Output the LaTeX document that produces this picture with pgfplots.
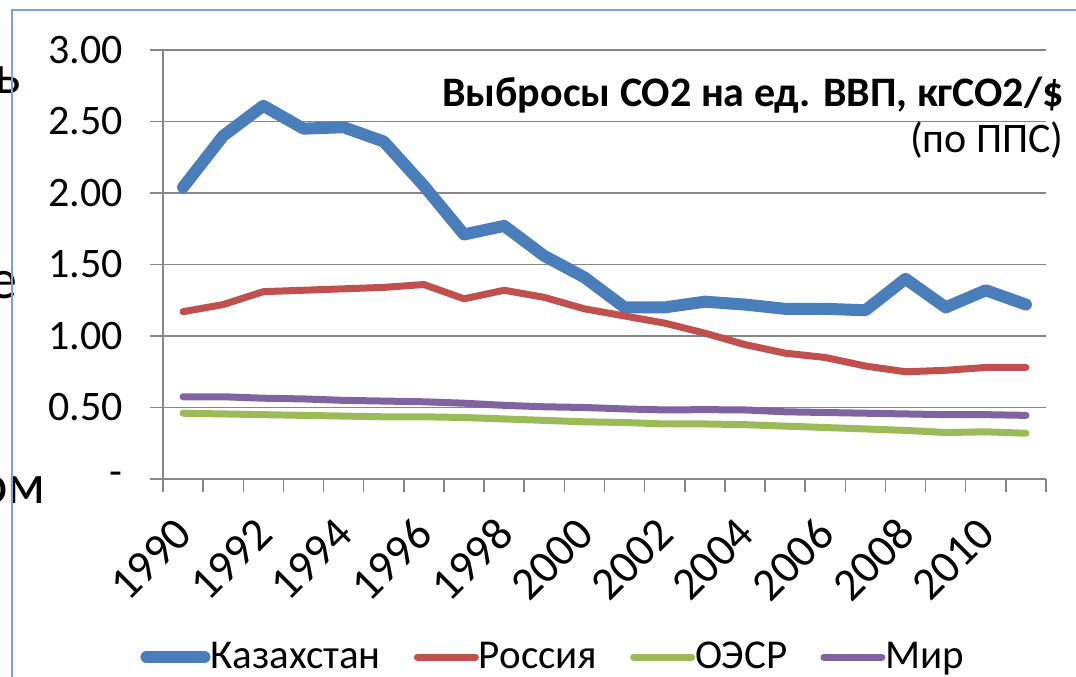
\documentclass[border=0pt]{standalone}
\usepackage{fontspec}
\setmainfont{Carlito}
\usepackage{pgfplots}
\pgfplotsset{compat=1.18}
\definecolor{kzblue}{HTML}{4A7EBB}
\definecolor{rured}{HTML}{C0504D}
\definecolor{oecdgreen}{HTML}{9BBB59}
\definecolor{worldpurple}{HTML}{8064A2}
\definecolor{gridgray}{HTML}{868686}
\definecolor{framecol}{HTML}{7DA1D4}
\begin{document}
\begin{tikzpicture}[x=1pt,y=1pt]
\useasboundingbox (0,0) rectangle (538,338);
% stray letters of the slide behind the chart
\node[anchor=base east, inner sep=0pt, font=\fontsize{28}{32}\selectfont] at (10.5,291) {ь};
\node[anchor=base east, inner sep=0pt, font=\fontsize{28}{32}\selectfont] at (9,189) {е};
\node[anchor=base east, inner sep=0pt, font=\fontsize{28}{32}\selectfont] at (23,86.5) {ом};
\draw[framecol, line width=1pt] (5.85,-2) -- (5.85,332.85) -- (540,332.85);
\begin{axis}[
  at={(81.5pt,98.5pt)}, anchor=south west,
  scale only axis, width=441.5pt, height=214.5pt,
  xmin=1989.5, xmax=2011.5, ymin=0, ymax=3,
  axis lines=left,
  axis line style={-, draw=gridgray, line width=0.75pt},
  ytick={0,0.5,1,1.5,2,2.5,3},
  yticklabels={-,0.50,1.00,1.50,2.00,2.50,3.00},
  ymajorgrids,
  grid style={gridgray, line width=0.75pt},
  xtick={1989.5,1990.5,1991.5,1992.5,1993.5,1994.5,1995.5,1996.5,1997.5,1998.5,1999.5,2000.5,2001.5,2002.5,2003.5,2004.5,2005.5,2006.5,2007.5,2008.5,2009.5,2010.5,2011.5},
  xticklabels={1990,,1992,,1994,,1996,,1998,,2000,,2002,,2004,,2006,,2008,,2010,,},
  tick align=outside,
  major tick length=6.5pt,
  tick style={gridgray, line width=0.75pt},
  yticklabel style={font=\fontsize{21}{24}\selectfont, anchor=east, inner sep=0pt, xshift=-13.5pt},
  xticklabel style={font=\fontsize{23}{27}\selectfont, xshift=10.5pt, yshift=-17pt, rotate=45, anchor=east, inner sep=0pt},
  legend style={at={(axis description cs:-0.026,-0.415)}, anchor=west, draw=none, fill=none, inner sep=0pt,
     font=\fontsize{20.5}{24}\selectfont, nodes={inner sep=0pt},
     /tikz/every even column/.append style={column sep=16.5pt}},
  legend columns=4,
  legend image code/.code={\draw[#1, line cap=round] (0pt,0pt) -- (29pt,0pt);},
  every axis plot/.append style={line cap=round, line join=round},
]
\addplot[kzblue, line width=6pt] coordinates {
(1990,2.04)(1991,2.40)(1992,2.61)(1993,2.45)(1994,2.46)(1995,2.36)(1996,2.05)(1997,1.71)
(1998,1.77)(1999,1.56)(2000,1.41)(2001,1.20)(2002,1.20)(2003,1.24)(2004,1.22)(2005,1.19)
(2006,1.19)(2007,1.18)(2008,1.40)(2009,1.20)(2010,1.32)(2011,1.22)};
\addlegendentry{Казахстан}
\addplot[rured, line width=3.5pt] coordinates {
(1990,1.17)(1991,1.22)(1992,1.31)(1993,1.32)(1994,1.33)(1995,1.34)(1996,1.36)(1997,1.26)
(1998,1.32)(1999,1.27)(2000,1.19)(2001,1.14)(2002,1.09)(2003,1.02)(2004,0.94)(2005,0.88)
(2006,0.85)(2007,0.79)(2008,0.75)(2009,0.76)(2010,0.78)(2011,0.78)};
\addlegendentry{Россия}
\addplot[oecdgreen, line width=3.5pt] coordinates {
(1990,0.46)(1991,0.455)(1992,0.45)(1993,0.445)(1994,0.44)(1995,0.435)(1996,0.435)(1997,0.43)
(1998,0.42)(1999,0.41)(2000,0.40)(2001,0.395)(2002,0.385)(2003,0.385)(2004,0.38)(2005,0.37)
(2006,0.36)(2007,0.35)(2008,0.34)(2009,0.325)(2010,0.33)(2011,0.32)};
\addlegendentry{ОЭСР}
\addplot[worldpurple, line width=3.5pt] coordinates {
(1990,0.575)(1991,0.575)(1992,0.565)(1993,0.56)(1994,0.55)(1995,0.545)(1996,0.54)(1997,0.53)
(1998,0.515)(1999,0.505)(2000,0.50)(2001,0.49)(2002,0.483)(2003,0.485)(2004,0.483)(2005,0.47)
(2006,0.465)(2007,0.46)(2008,0.455)(2009,0.45)(2010,0.45)(2011,0.445)};
\addlegendentry{Мир}
\end{axis}
\node[anchor=base east, inner sep=0pt, font=\fontsize{21}{24}\selectfont\bfseries] at (532,284.5) {Выбросы CO2 на ед. ВВП, кгCO2/\$};
\node[anchor=base east, inner sep=0pt, font=\fontsize{21}{24}\selectfont] at (532,261.5) {(по ППС)};
\end{tikzpicture}
\end{document}
